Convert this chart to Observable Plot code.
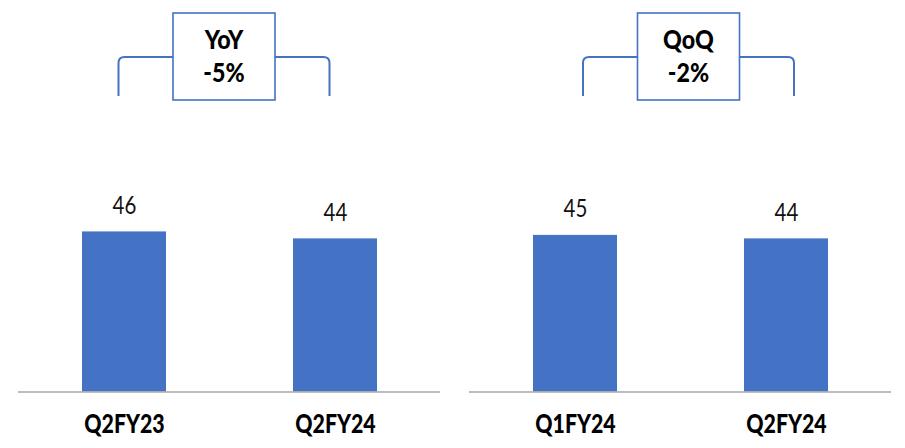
<!DOCTYPE html>
<html>
<head>
<meta charset="utf-8">
<script src="https://cdn.jsdelivr.net/npm/d3@7"></script>
<script src="https://cdn.jsdelivr.net/npm/@observablehq/plot@0.6"></script>
<style>
  html, body { margin: 0; padding: 0; background: #fff; }
</style>
</head>
<body>
<div id="chart"></div>
<script>
// Comparison panels and their headline change
const panels = ["YoY", "QoQ"];
const changes = ["-5%", "-2%"];

// Bars: which panel, which quarter, and the value shown
const barPanels = ["YoY", "YoY", "QoQ", "QoQ"];
const quarters = ["Q2FY23", "Q2FY24", "Q1FY24", "Q2FY24"];
const values = [46, 44, 45, 44];
const slots = [0, 1, 0, 1];

const rows = quarters.map((q, i) => ({panel: barPanels[i], quarter: q, value: values[i], slot: slots[i]}));

const BLUE = "#4472C4";
const FONT = "Lato, 'Noto Sans', sans-serif";

// Bracket + box annotation geometry (pixels)
const bracket = {
  shift: {YoY: -5.5, QoQ: 8},
  top: 57, bottom: 96, radius: 6,
  boxTop: 13, boxWidth: 102, boxHeight: 87,
  line1: 49, line2: 82
};

const chart = Plot.plot({
  width: 905,
  height: 448,
  marginLeft: 18,
  marginRight: 13,
  marginTop: 43.5,
  marginBottom: 56.5,
  style: {fontFamily: FONT, background: "#fff"},
  fx: {domain: panels, paddingInner: 0.0642, paddingOuter: 0, axis: null, label: null},
  x: {domain: [0, 1], paddingInner: 0.603, paddingOuter: 0.3015, axis: null},
  y: {domain: [0, 100], axis: null},
  marks: [
    Plot.barY(rows, {fx: "panel", x: "slot", y: "value", fill: BLUE}),
    Plot.ruleY([0], {stroke: "#a6a6a6", strokeWidth: 1.5}),
    Plot.text(rows, {fx: "panel", x: "slot", y: "value", text: d => String(d.value),
      lineAnchor: "bottom", dy: -18, fontSize: 25, fill: "#111"}),
    Plot.text(rows, {fx: "panel", x: "slot", y: () => 0, text: "quarter",
      lineAnchor: "bottom", dy: 40.5, fontSize: 26, fontWeight: 900, fill: "#000"})
  ]
});

document.getElementById("chart").appendChild(chart);

// Narrow the lettering horizontally around each label's anchor
const svg = d3.select(chart.tagName.toLowerCase() === "svg" ? chart : chart.querySelector("svg"));
svg.selectAll("g[aria-label='text'] text").each(function () {
  const t = this.getAttribute("transform");
  if (t) {
    this.setAttribute("transform", t + " scale(0.82,1)");
  } else {
    const x = +this.getAttribute("x") || 0, y = +this.getAttribute("y") || 0;
    this.removeAttribute("x"); this.removeAttribute("y");
    this.setAttribute("transform", `translate(${x},${y}) scale(0.82,1)`);
  }
});

// Bracket annotations spanning the two bars of each panel
const svgBox = svg.node().getBoundingClientRect();
const bars = svg.selectAll("g[aria-label='bar'] rect").nodes().map(n => {
  const r = n.getBoundingClientRect();
  return {cx: r.left - svgBox.left + r.width / 2};
});
const barsByPanel = d3.group(rows.map((d, i) => ({...d, cx: bars[i] ? bars[i].cx : 0})), d => d.panel);
const ann = svg.append("g").attr("aria-label", "brackets");
panels.forEach((p, i) => {
  const pts = barsByPanel.get(p).map(d => d.cx).sort((a, b) => a - b);
  const s = bracket.shift[p];
  const x0 = pts[0] + s, x1 = pts[pts.length - 1] + s;
  const cx = (x0 + x1) / 2;
  const {top, bottom, radius: r, boxTop, boxWidth, boxHeight} = bracket;
  const bl = cx - boxWidth / 2, br = cx + boxWidth / 2;
  ann.append("path")
    .attr("d", `M${x0},${bottom} V${top + r} Q${x0},${top} ${x0 + r},${top} H${bl}` +
               ` M${br},${top} H${x1 - r} Q${x1},${top} ${x1},${top + r} V${bottom}`)
    .attr("fill", "none").attr("stroke", BLUE).attr("stroke-width", 2);
  ann.append("rect")
    .attr("x", bl).attr("y", boxTop).attr("width", boxWidth).attr("height", boxHeight)
    .attr("fill", "#fff").attr("stroke", BLUE).attr("stroke-width", 1.6);
  [[p, bracket.line1], [changes[i], bracket.line2]].forEach(([txt, y]) => {
    ann.append("text")
      .attr("transform", `translate(${cx},${y}) scale(0.86,1)`)
      .attr("text-anchor", "middle").attr("font-weight", 900)
      .attr("font-size", 27).attr("font-family", FONT).attr("fill", "#000")
      .text(txt);
  });
});
</script>
</body>
</html>
